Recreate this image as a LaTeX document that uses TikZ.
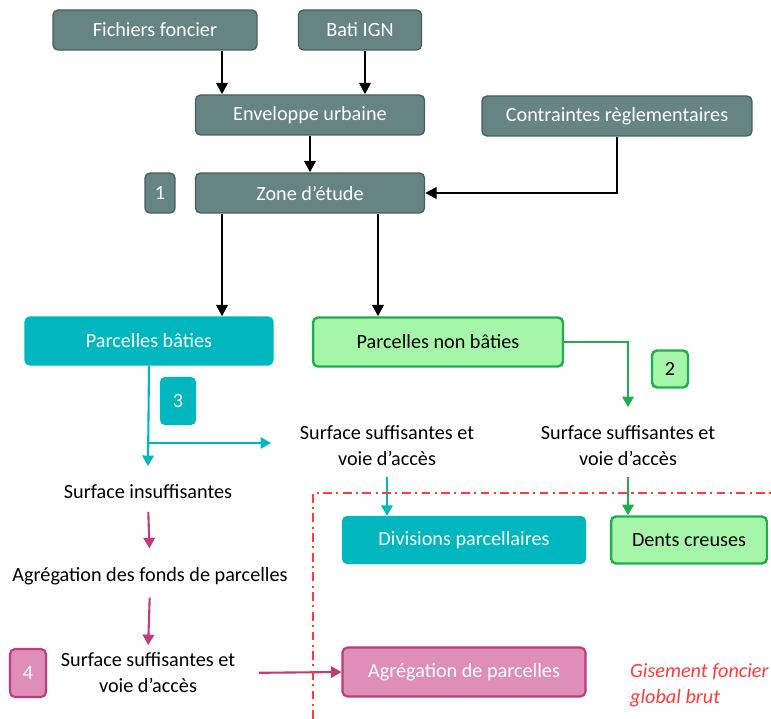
\documentclass[tikz,border=0pt]{standalone}
\usepackage{fontspec}
\setmainfont{Carlito}
\usetikzlibrary{arrows.meta}

\definecolor{grisvert}{HTML}{668483}
\definecolor{grisfonce}{HTML}{46605F}
\definecolor{turquoise}{HTML}{00B7BF}
\definecolor{vertclair}{HTML}{A5F6A8}
\definecolor{vertfonce}{HTML}{1FAE4E}
\definecolor{rose}{HTML}{DE8EB7}
\definecolor{magentafonce}{HTML}{BF3B7B}
\definecolor{rouge}{HTML}{FF3B3B}

\tikzset{
  police/.style={font=\fontsize{11.5}{14.7}\selectfont},
  boite/.style={police, rounded corners=0.1cm, align=center, inner sep=2pt},
  gris/.style={boite, draw=grisfonce, fill=grisvert, text=white, line width=0.8pt},
  turq/.style={boite, draw=turquoise, fill=turquoise, text=white, line width=0.8pt},
  vert/.style={boite, draw=vertfonce, fill=vertclair, text=black, line width=1.4pt},
  rosebox/.style={boite, draw=magentafonce, fill=rose, text=white, line width=1.2pt},
  texte/.style={police, align=center, inner sep=2pt},
  noir/.style={line width=1.4pt, -{Triangle[length=6.5pt,width=6.5pt]}},
  fl/.style={line width=1.2pt, -{Triangle[length=6pt,width=6.5pt]}},
}

\begin{document}
\begin{tikzpicture}[x=0.02cm,y=-0.02cm]
\useasboundingbox (0,0) rectangle (771,719);

% partie haute
\node[gris, minimum width=4.08cm, minimum height=0.8cm] (ff) at (155,30) {Fichiers foncier};
\node[gris, minimum width=2.46cm, minimum height=0.8cm] (bi) at (360,30) {Bati IGN};
\node[gris, minimum width=4.58cm, minimum height=0.8cm] (eu) at (310,115) {Enveloppe urbaine};
\node[gris, minimum width=5.4cm, minimum height=0.8cm] (cr) at (617,116) {Contraintes règlementaires};
\node[gris, minimum width=4.58cm, minimum height=0.8cm] (ze) at (310,193) {Zone d’étude};
\node[gris, minimum width=0.6cm, minimum height=0.8cm] (n1) at (160,193) {1};

\coordinate (xg) at (222,0);
\coordinate (xb) at (365,0);
\coordinate (xd) at (378,0);

\draw[noir] (ff.south -| xg) -- (eu.north -| xg);
\draw[noir] (bi.south -| xb) -- (eu.north -| xb);
\draw[noir] (eu.south) -- (ze.north);
\draw[noir] (cr.south) |- (ze.east);

% parcelles
\node[turq, minimum width=4.96cm, minimum height=0.96cm] (pb) at (149,341) {Parcelles bâties};
\node[vert, minimum width=5.0cm, minimum height=0.98cm] (pnb) at (438,342) {Parcelles non bâties};
\draw[noir] (ze.south -| xg) -- (pb.north -| xg);
\draw[noir] (ze.south -| xd) -- (pnb.north -| xd);

% branche 2
\node[vert, minimum width=0.72cm, minimum height=0.74cm] (n2) at (670,369) {2};
\node[texte] (s2) at (628,446) {Surface suffisantes et\\voie d’accès};
\node[vert, minimum width=3.12cm, minimum height=0.94cm] (dc) at (689,540) {Dents creuses};
\draw[fl, vertfonce] (pnb.east) -| ([yshift=0.3cm]s2.north);
\draw[fl, vertfonce, shorten <=4pt] (s2.south) -- (dc.north -| s2.south);

% branche 3
\node[turq, minimum width=0.7cm, minimum height=0.94cm] (n3) at (178,401) {3};
\node[texte] (s1) at (387,446) {Surface suffisantes et\\voie d’accès};
\node[turq, minimum width=4.86cm, minimum height=0.94cm] (dp) at (464,540) {Divisions parcellaires};
\node[texte] (si) at (148,492) {Surface insuffisantes};
\coordinate (br) at (149,443);
\draw[fl, turquoise] (pb.south) -- ([yshift=0.3cm]si.north);
\draw[fl, turquoise, shorten >=0.5cm] (br) -- (br -| s1.west);
\draw[fl, turquoise, shorten <=4pt] (s1.south) -- (dp.north -| s1.south);

% branche 4
\node[texte] (afp) at (150,576) {Agrégation des fonds de parcelles};
\node[rosebox, minimum width=0.72cm, minimum height=0.96cm] (n4) at (28,673) {4};
\node[texte] (s4) at (148,673) {Surface suffisantes et\\voie d’accès};
\node[rosebox, minimum width=4.86cm, minimum height=0.98cm] (ap) at (464,672) {Agrégation de parcelles};
\draw[fl, magentafonce, shorten <=0.18cm, shorten >=0.3cm] (si.south) -- (afp.north);
\draw[fl, magentafonce, shorten <=0.18cm, shorten >=0.08cm] (afp.south) -- (s4.north);
\draw[fl, magentafonce, shorten <=0.4cm] (s4.east) -- (ap.west);

% gisement
\draw[rouge, line width=0.9pt, dash pattern=on 5pt off 2.5pt on 1.2pt off 2.5pt] (313,719) |- (771,493);
\node[police, text=rouge, align=left, anchor=west, font=\fontsize{11.5}{14.7}\selectfont\itshape] (gis) at (624,685) {Gisement foncier\\global brut};

\end{tikzpicture}
\end{document}
